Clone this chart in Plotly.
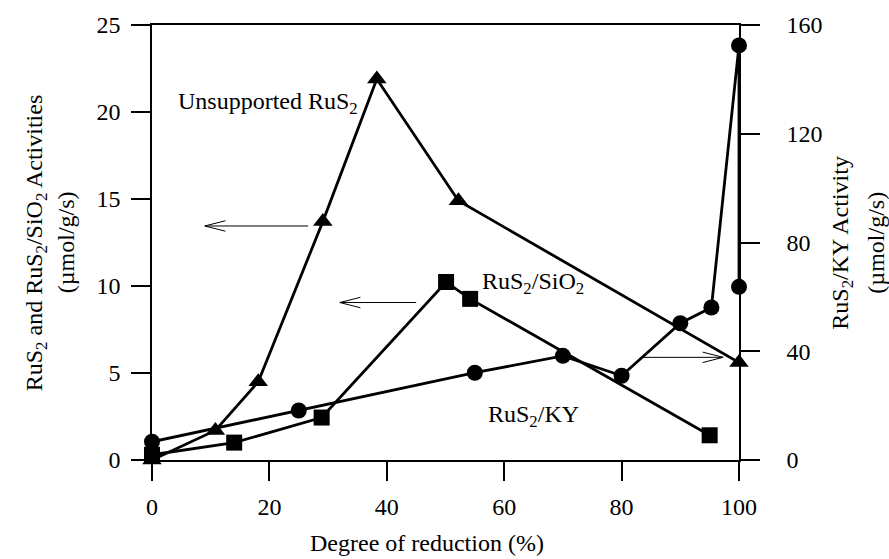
import plotly.graph_objects as go

# Degree of reduction (%) and activities
x_unsupported = [0, 10.8, 18.1, 29.1, 38.3, 52.2, 100]
y_unsupported = [0, 1.7, 4.5, 13.7, 21.9, 14.9, 5.6]

x_sio2 = [0, 14.0, 28.9, 50.1, 54.2, 95.0]
y_sio2 = [0.3, 1.0, 2.44, 10.23, 9.26, 1.42]

x_ky = [0, 25, 55, 70, 80, 90, 95.3, 100, 100]
y_ky = [6.7, 18.2, 32.1, 38.3, 31.0, 50.3, 56.1, 152.5, 63.7]

x_ticks = [0, 20, 40, 60, 80, 100]
y_left_ticks = [0, 5, 10, 15, 20, 25]
y_right_ticks = [0, 40, 80, 120, 160]

FONT = "Liberation Serif"
BLACK = "#000000"

fig = go.Figure()

fig.add_trace(go.Scatter(
    x=x_unsupported, y=y_unsupported, mode="lines+markers",
    line=dict(color=BLACK, width=2.8),
    marker=dict(symbol="triangle-up", size=17, color=BLACK, line=dict(width=0)),
    cliponaxis=False, showlegend=False, name="Unsupported RuS2",
))
fig.add_trace(go.Scatter(
    x=x_sio2, y=y_sio2, mode="lines+markers",
    line=dict(color=BLACK, width=2.8),
    marker=dict(symbol="square", size=16, color=BLACK, line=dict(width=0)),
    cliponaxis=False, showlegend=False, name="RuS2/SiO2",
))
fig.add_trace(go.Scatter(
    x=x_ky, y=y_ky, mode="lines+markers", yaxis="y2",
    line=dict(color=BLACK, width=2.8),
    marker=dict(symbol="circle", size=16, color=BLACK, line=dict(width=0)),
    cliponaxis=False, showlegend=False, name="RuS2/KY",
))


def open_arrow(x_tail, x_head, y, head_len=3.5, head_half=0.3):
    """Thin horizontal arrow with an open '<' / '>' head, in data units."""
    d = 1 if x_head > x_tail else -1
    style = dict(color=BLACK, width=1)
    return [
        dict(type="line", xref="x", yref="y", x0=x_tail, x1=x_head, y0=y, y1=y, line=style),
        dict(type="line", xref="x", yref="y", x0=x_head, x1=x_head - d * head_len,
             y0=y, y1=y + head_half, line=style),
        dict(type="line", xref="x", yref="y", x0=x_head, x1=x_head - d * head_len,
             y0=y, y1=y - head_half, line=style),
    ]


shapes = []
shapes += open_arrow(26.6, 9.0, 13.45)
shapes += open_arrow(45.0, 32.0, 9.05)
shapes += open_arrow(83.6, 97.3, 5.9)

txt = dict(family=FONT, size=24, color=BLACK)
annotations = [
    dict(text="Unsupported RuS<sub>2</sub>", x=19.7, y=20.5, xref="x", yref="y",
         showarrow=False, font=txt, xanchor="center", yanchor="middle"),
    dict(text="RuS<sub>2</sub>/SiO<sub>2</sub>", x=64.9, y=10.15, xref="x", yref="y",
         showarrow=False, font=txt, xanchor="center", yanchor="middle"),
    dict(text="RuS<sub>2</sub>/KY", x=65.0, y=2.55, xref="x", yref="y",
         showarrow=False, font=txt, xanchor="center", yanchor="middle"),
    # axis titles
    dict(text="Degree of reduction (%)", x=0.469, y=-0.19, xref="paper", yref="paper",
         showarrow=False, font=txt, xanchor="center", yanchor="middle"),
    dict(text="RuS<sub>2</sub> and RuS<sub>2</sub>/SiO<sub>2</sub> Activities",
         x=-0.198, y=0.5, xref="paper", yref="paper", textangle=-90,
         showarrow=False, font=txt, xanchor="center", yanchor="middle"),
    dict(text="(µmol/g/s)", x=-0.147, y=0.5, xref="paper", yref="paper", textangle=-90,
         showarrow=False, font=txt, xanchor="center", yanchor="middle"),
    dict(text="RuS<sub>2</sub>/KY Activity", x=1.174, y=0.5, xref="paper", yref="paper",
         textangle=-90, showarrow=False, font=txt, xanchor="center", yanchor="middle"),
    dict(text="(µmol/g/s)", x=1.232, y=0.5, xref="paper", yref="paper", textangle=-90,
         showarrow=False, font=txt, xanchor="center", yanchor="middle"),
]

axis_common = dict(
    showgrid=False, zeroline=False, showline=True, linecolor=BLACK, linewidth=1.5,
    ticks="outside", ticklen=19, tickwidth=1.5, tickcolor=BLACK,
    tickfont=dict(family=FONT, size=24, color=BLACK),
)

fig.update_layout(
    width=889, height=559,
    margin=dict(l=152, r=150, t=20, b=99),
    paper_bgcolor="white", plot_bgcolor="white",
    xaxis=dict(range=[0, 100], tickvals=x_ticks, mirror=True, ticklabelstandoff=5,
               **axis_common),
    yaxis=dict(range=[0, 25], tickvals=y_left_ticks, ticklabelstandoff=6, **axis_common),
    yaxis2=dict(range=[0, 160], tickvals=y_right_ticks, overlaying="y", side="right",
                ticklabelstandoff=22, **axis_common),
    shapes=shapes,
    annotations=annotations,
    showlegend=False,
)

fig.write_html("out.html")
